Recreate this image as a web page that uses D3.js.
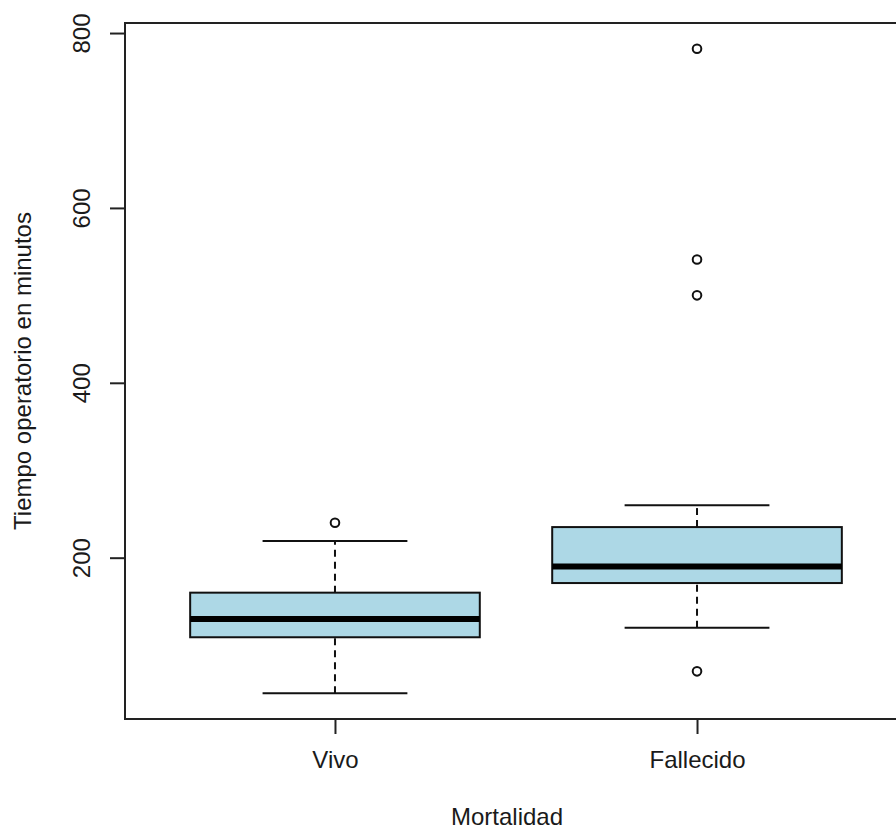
<!DOCTYPE html>
<html>
<head>
<meta charset="utf-8">
<script src="https://cdn.jsdelivr.net/npm/d3@7"></script>
<style>
  html, body { margin: 0; padding: 0; background: #fff; }
  svg { display: block; }
  text { font-family: "Liberation Sans", Arial, sans-serif; fill: #1a1a1a; }
</style>
</head>
<body>
<svg id="chart" width="896" height="832"></svg>
<script>
// Operating time (minutes) by outcome — five-number summaries and outliers
const categories = ["Vivo", "Fallecido"];
const whiskerLow = [45, 120];
const q1 = [109, 171];
const median = [130, 190];
const q3 = [160, 235];
const whiskerHigh = [219, 260];
const outliersVivo = [240];
const outliersFallecido = [782, 541, 500, 70];
const yTicks = [200, 400, 600, 800];
const xLabel = "Mortalidad";
const yLabel = "Tiempo operatorio en minutos";

const outliers = [outliersVivo, outliersFallecido];
const boxes = categories.map((c, i) => ({
  cat: c, idx: i + 1,
  lo: whiskerLow[i], q1: q1[i], med: median[i], q3: q3[i], hi: whiskerHigh[i],
  out: outliers[i]
}));

const svg = d3.select("#chart");
const plot = { left: 125, top: 23, right: 907, bottom: 719 };

// y range padded by 4% on each side of the data extent
const allVals = boxes.flatMap(b => [b.lo, b.hi, ...b.out]);
const [mn, mx] = d3.extent(allVals);
const pad = (mx - mn) * 0.04;
const y = d3.scaleLinear().domain([mn - pad, mx + pad]).range([plot.bottom, plot.top]);
// x positions 1..n, range [0.5, n+0.5] padded by 4%
const n = categories.length;
const xPad = n * 0.04;
const x = d3.scaleLinear().domain([0.5 - xPad, n + 0.5 + xPad]).range([plot.left, plot.right]);

const boxW = 0.8, capW = 0.4;
const ink = "#111";

const g = svg.append("g");

boxes.forEach(b => {
  const cx = x(b.idx);
  // dashed whiskers
  [[b.lo, b.q1], [b.q3, b.hi]].forEach(([a, c]) => {
    g.append("line")
      .attr("x1", cx).attr("x2", cx)
      .attr("y1", y(a)).attr("y2", y(c))
      .attr("stroke", ink).attr("stroke-width", 2)
      .attr("stroke-dasharray", "7,5");
  });
  // staples
  [b.lo, b.hi].forEach(v => {
    g.append("line")
      .attr("x1", x(b.idx - capW / 2)).attr("x2", x(b.idx + capW / 2))
      .attr("y1", y(v)).attr("y2", y(v))
      .attr("stroke", ink).attr("stroke-width", 2);
  });
  // box
  g.append("rect")
    .attr("x", x(b.idx - boxW / 2))
    .attr("y", y(b.q3))
    .attr("width", x(b.idx + boxW / 2) - x(b.idx - boxW / 2))
    .attr("height", y(b.q1) - y(b.q3))
    .attr("fill", "#add8e6")
    .attr("stroke", ink).attr("stroke-width", 2);
  // median
  g.append("line")
    .attr("x1", x(b.idx - boxW / 2)).attr("x2", x(b.idx + boxW / 2))
    .attr("y1", y(b.med)).attr("y2", y(b.med))
    .attr("stroke", "#000").attr("stroke-width", 6);
  // outliers
  g.selectAll(null).data(b.out).enter().append("circle")
    .attr("cx", cx).attr("cy", d => y(d)).attr("r", 4.3)
    .attr("fill", "none").attr("stroke", ink).attr("stroke-width", 2);
});

// frame
svg.append("rect")
  .attr("x", plot.left).attr("y", plot.top)
  .attr("width", plot.right - plot.left).attr("height", plot.bottom - plot.top)
  .attr("fill", "none").attr("stroke", "#222").attr("stroke-width", 2);

// y axis
const yAxis = d3.axisLeft(y).tickValues(yTicks).tickSize(15).tickPadding(0).tickFormat(d3.format("d"));
const ya = svg.append("g").attr("transform", `translate(${plot.left},0)`).call(yAxis);
ya.select(".domain").remove();
ya.selectAll(".tick line").attr("stroke", "#222").attr("stroke-width", 2);
ya.selectAll(".tick text")
  .attr("transform", "rotate(-90)")
  .attr("x", 0).attr("y", -(plot.left - 90)).attr("dy", 0)
  .attr("text-anchor", "middle")
  .style("font-size", "24px");

// x axis
const xAxis = d3.axisBottom(x).tickValues(boxes.map(b => b.idx)).tickSize(15).tickPadding(0)
  .tickFormat((d, i) => categories[i]);
const xa = svg.append("g").attr("transform", `translate(0,${plot.bottom})`).call(xAxis);
xa.select(".domain").remove();
xa.selectAll(".tick line").attr("stroke", "#222").attr("stroke-width", 2);
xa.selectAll(".tick text")
  .attr("y", 768 - plot.bottom).attr("dy", 0)
  .style("font-size", "24px");

// axis titles
svg.append("text")
  .attr("x", (plot.left + plot.right) / 2 - 9).attr("y", 825)
  .attr("text-anchor", "middle").style("font-size", "24px")
  .text(xLabel);
svg.append("text")
  .attr("transform", `translate(31,${(plot.top + plot.bottom) / 2}) rotate(-90)`)
  .attr("text-anchor", "middle").style("font-size", "24px")
  .text(yLabel);
</script>
</body>
</html>
